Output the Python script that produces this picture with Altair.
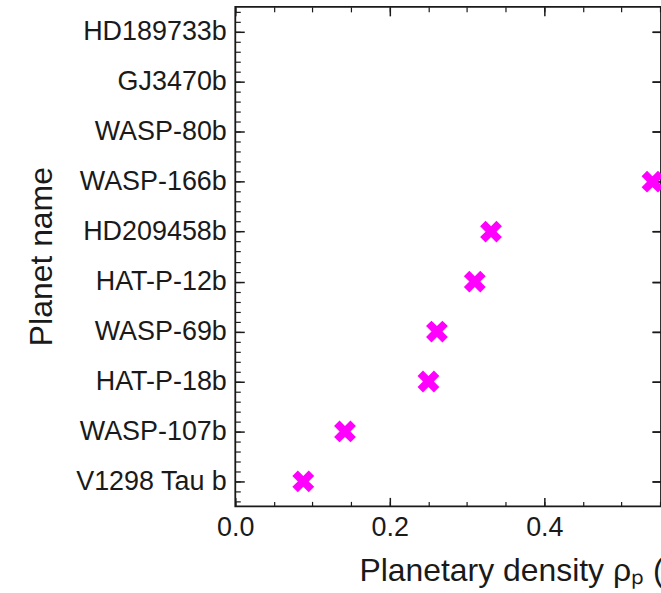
import altair as alt
import pandas as pd

planets = ["V1298 Tau b", "WASP-107b", "HAT-P-18b", "WASP-69b", "HAT-P-12b",
           "HD209458b", "WASP-166b", "WASP-80b", "GJ3470b", "HD189733b"]
density = [0.088, 0.142, 0.250, 0.261, 0.310, 0.331, 0.540, 0.72, 0.85, 0.94]

df = pd.DataFrame({"planet": planets, "idx": list(range(len(planets))), "density": density})

x_major = [0.0, 0.2, 0.4, 0.6]
x_minor = [round(i * 0.05, 2) for i in range(0, 13)]
y_major = list(range(len(planets)))
y_minor = [round(-0.4 + i * 0.2, 1) for i in range(0, 50)]

FONT = "Liberation Sans"
AX = "#1a1a1a"
label_expr = "[" + ",".join("'%s'" % p for p in planets) + "][datum.value]"

# matplotlib-style filled "X" (a plus rotated by 45 degrees)
X_PATH = ("M -0.333 -1 L 0.333 -1 L 0.333 -0.333 L 1 -0.333 L 1 0.333 "
          "L 0.333 0.333 L 0.333 1 L -0.333 1 L -0.333 0.333 L -1 0.333 "
          "L -1 -0.333 L -0.333 -0.333 Z")

xscale = alt.Scale(domain=[0, 0.551], nice=False, zero=False)
yscale = alt.Scale(domain=[-0.5, 9.5], nice=False, zero=False)

base = alt.Chart(df)

pts = base.mark_point(shape=X_PATH, filled=True, angle=45, size=540,
                      color="#ff00ff", opacity=1, strokeWidth=0, clip=True).encode(
    x=alt.X("density:Q", scale=xscale,
            title="Planetary density ρₚ (g cm⁻³)",
            axis=alt.Axis(orient="bottom", values=x_major, format=".1f",
                          domain=False, grid=False,
                          tickSize=alt.ExprRef("-9"), tickWidth=1.5, tickColor=AX,
                          labelFont=FONT, labelFontSize=27, labelColor=AX,
                          labelPadding=17, labelFlush=False,
                          titleFont=FONT, titleFontSize=32, titleFontWeight="normal",
                          titleColor=AX, titleAnchor="start", titleAlign="left",
                          titleBaseline="alphabetic", titleX=124, titleY=74)),
    y=alt.Y("idx:Q", scale=yscale, title="Planet name",
            axis=alt.Axis(orient="left", values=y_major, labelExpr=label_expr,
                          domain=False, grid=False,
                          tickSize=alt.ExprRef("-9"), tickWidth=1.5, tickColor=AX,
                          labelFont=FONT, labelFontSize=27, labelColor=AX,
                          labelPadding=18, labelAlign="right", labelBaseline="middle",
                          titleFont=FONT, titleFontSize=32, titleFontWeight="normal",
                          titleColor=AX, titleAngle=270, titleAlign="center",
                          titleBaseline="alphabetic", titleX=-184, titleY=250)),
)

def ghost(xaxis, yaxis):
    return base.mark_point(opacity=0, clip=True).encode(
        x=alt.X("density:Q", scale=xscale, title=None, axis=xaxis),
        y=alt.Y("idx:Q", scale=yscale, title=None, axis=yaxis),
    )

minor_bottom = alt.Axis(orient="bottom", values=x_minor, labels=False, domain=False,
                        grid=False, tickSize=alt.ExprRef("-5"), tickWidth=1.2, tickColor=AX)
minor_left = alt.Axis(orient="left", values=y_minor, labels=False, domain=False,
                      grid=False, tickSize=alt.ExprRef("-5"), tickWidth=1.2, tickColor=AX)
major_top = alt.Axis(orient="top", values=x_major, labels=False, domain=False,
                     grid=False, tickSize=alt.ExprRef("-9"), tickWidth=1.5, tickColor=AX)
minor_top = alt.Axis(orient="top", values=x_minor, labels=False, domain=False,
                     grid=False, tickSize=alt.ExprRef("-5"), tickWidth=1.2, tickColor=AX)
major_right = alt.Axis(orient="right", values=y_major, labels=False, domain=False,
                       grid=False, tickSize=alt.ExprRef("-9"), tickWidth=1.5, tickColor=AX)

chart = alt.layer(
    ghost(minor_bottom, minor_left),
    ghost(major_top, major_right),
    ghost(minor_top, major_right),
    pts,
).resolve_axis(x="independent", y="independent").properties(
    width=427, height=501,
    autosize=alt.AutoSizeParams(type="none"),
    padding={"left": 236, "top": 6, "right": 0, "bottom": 86},
    background="white",
).configure_view(stroke=AX, strokeWidth=1.8)

chart.save("out.html", embed_options={"renderer": "svg", "actions": False})
